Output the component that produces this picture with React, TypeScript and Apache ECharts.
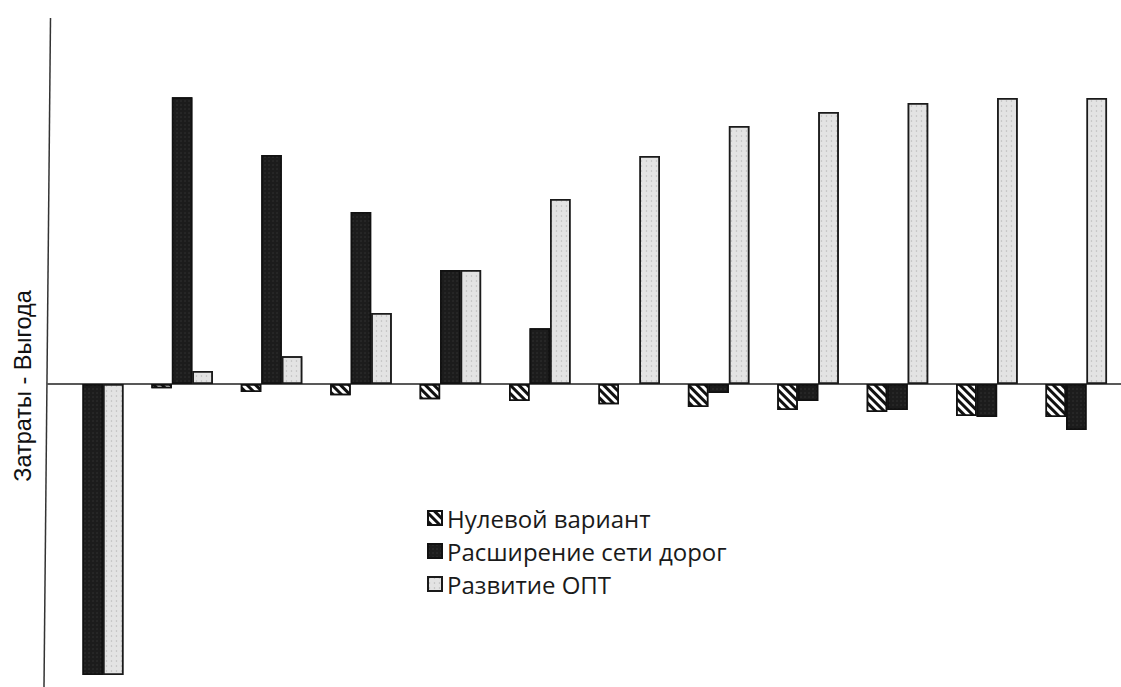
import React, { useEffect, useRef } from "react";
import * as echarts from "echarts";

const categories = ["1", "2", "3", "4", "5", "6", "7", "8", "9", "10", "11", "12"];
const seriesNames = ["Нулевой вариант", "Расширение сети дорог", "Развитие ОПТ"];
const zeroVariant: (number | string)[] = ["-", -1.4, -2.7, -3.8, -5.2, -5.8, -6.9, -7.9, -8.9, -9.6, -11.0, -11.3];
const roadNetwork: (number | string)[] = [-100, 98.6, 78.7, 59.1, 39.2, 19.2, "-", -3.1, -5.8, -8.9, -11.3, -15.8];
const publicTransport: (number | string)[] = [-100, 4.5, 9.6, 24.4, 39.2, 63.6, 78.4, 88.7, 93.5, 96.6, 98.3, 98.3];
const yAxisTitle = "Затраты - Выгода";

export default function App() {
  const ref = useRef<HTMLDivElement>(null);
  useEffect(() => {
    if (!ref.current) return;
    const chart = echarts.init(ref.current, undefined, { renderer: "svg" });
    const barBase = {
      type: "bar" as const,
      barWidth: 20.5,
      barGap: "0%",
    };
    chart.setOption({
      animation: false,
      backgroundColor: "#ffffff",
      grid: { left: 48, top: 18, width: 1082, height: 669 },
      xAxis: {
        type: "category",
        data: categories,
        axisLine: { show: true, onZero: true, lineStyle: { color: "#222", width: 1.5 } },
        axisTick: { show: false },
        axisLabel: { show: false },
        splitLine: { show: false },
      },
      yAxis: {
        type: "value",
        min: -104.1,
        max: 125.8,
        axisLine: { show: false },
        axisTick: { show: false },
        axisLabel: { show: false },
        splitLine: { show: false },
      },
      legend: {
        orient: "vertical",
        left: 422,
        top: 499,
        itemWidth: 14,
        itemHeight: 14,
        itemGap: 5,
        icon: "rect",
        textStyle: { fontFamily: "Open Sans", fontSize: 24, color: "#1a1a1a", lineHeight: 28 },
        data: seriesNames,
      },
      graphic: [
        {
          type: "line",
          shape: { x1: 50.5, y1: 18, x2: 44, y2: 687 },
          style: { stroke: "#333", lineWidth: 1.5 },
        },
        {
          type: "text",
          x: 23,
          y: 386,
          rotation: Math.PI / 2,
          style: {
            text: yAxisTitle,
            fontFamily: "Liberation Sans",
            fontSize: 23.5,
            fill: "#111",
            textAlign: "center",
            textVerticalAlign: "middle",
          },
        },
      ],
      series: [
        {
          ...barBase,
          name: seriesNames[0],
          data: zeroVariant,
          itemStyle: {
            color: "#ffffff",
            borderColor: "#111",
            borderWidth: 1.5,
            decal: {
              symbol: "rect",
              symbolSize: 1,
              color: "#111",
              backgroundColor: "#ffffff",
              dashArrayX: [1, 0],
              dashArrayY: [3, 3],
              rotation: Math.PI / 4,
            },
          },
        },
        {
          ...barBase,
          name: seriesNames[1],
          data: roadNetwork,
          itemStyle: {
            color: "#1c1c1c",
            borderColor: "#111",
            borderWidth: 1.5,
            decal: {
              symbol: "circle",
              symbolSize: 0.6,
              color: "rgba(255,255,255,0.12)",
              dashArrayX: [2, 2],
              dashArrayY: [2, 2],
            },
          },
        },
        {
          ...barBase,
          name: seriesNames[2],
          data: publicTransport,
          itemStyle: {
            color: "#e3e3e3",
            borderColor: "#1a1a1a",
            borderWidth: 1.5,
            decal: {
              symbol: "circle",
              symbolSize: 0.7,
              color: "rgba(0,0,0,0.18)",
              dashArrayX: [3, 2],
              dashArrayY: [2, 3],
            },
          },
        },
      ],
    });
    return () => chart.dispose();
  }, []);
  return (
    <div
      ref={ref}
      style={{ position: "absolute", left: 0, top: 0, width: 1121, height: 687, background: "#fff" }}
    />
  );
}
